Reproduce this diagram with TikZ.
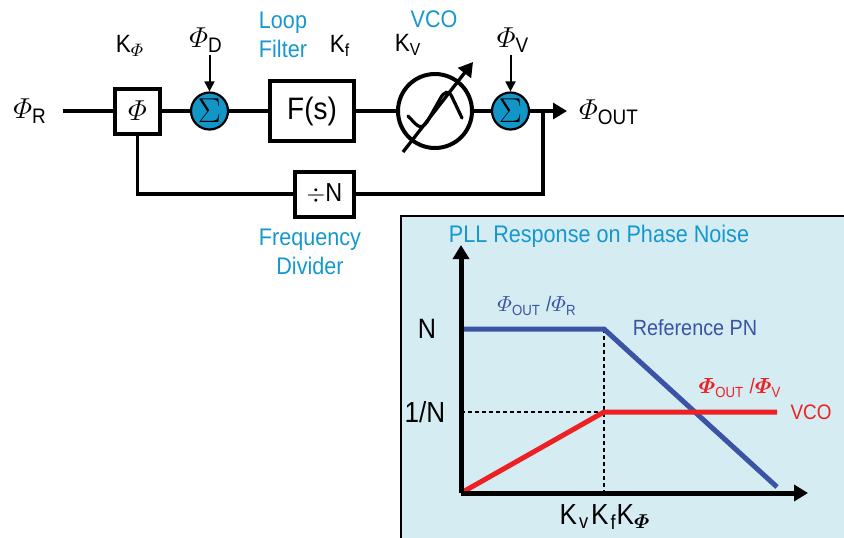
\documentclass[tikz,border=0pt]{standalone}
\usepackage{amsmath,bm}
\usepackage{fontspec}
\setmainfont{Liberation Sans}[FakeStretch=0.9]
\usetikzlibrary{arrows.meta,positioning}

\definecolor{labelblue}{RGB}{22,152,206}
\definecolor{sumblue}{RGB}{18,150,200}
\definecolor{panelbg}{RGB}{214,236,243}
\definecolor{pnblue}{RGB}{59,83,164}
\definecolor{pnred}{RGB}{237,32,36}

\newcommand{\fsz}[1]{\fontsize{#1}{14.5}\selectfont}

\tikzset{
    wire/.style={line width=1.65pt},
    block/.style={draw, line width=2pt, fill=white, inner sep=0pt},
    sumnode/.style={circle, draw, line width=1.1pt, fill=sumblue, minimum size=18.5pt, inner sep=0pt, font=\fsz{16}},
    lbl/.style={inner sep=1pt, font=\fsz{12.5}},
    philbl/.style={inner sep=1pt, font=\fsz{15}},
    bluetxt/.style={inner sep=1pt, text=labelblue, font=\fsz{12}},
    axis/.style={line width=2.5pt},
    guide/.style={line width=0.8pt, dash pattern=on 2pt off 1.5pt},
    pncurve/.style={line width=2.5pt},
}

\begin{document}
\begin{tikzpicture}[x=0.5pt, y=-0.5pt]
    \useasboundingbox (0,0) rectangle (844,537);

    % loop blocks
    \node[philbl] (phiR) at (30,111) {$\varPhi_{\text{R}}$};
    \node[block, minimum size=22.5pt, font=\fsz{15}] (pd) at (137.5,111) {$\varPhi$};
    \node[lbl] (kpd) at (130,46) {K$_{\varPhi}$};
    \node[sumnode] (sd) at (209.5,111) {$\Sigma$};
    \node[philbl] (phiD) at (206,40) {$\varPhi_{\text{D}}$};
    \node[block, minimum width=42pt, minimum height=30pt, font=\fsz{15.5}] (filt) at (312,111) {F(s)};
    \node[bluetxt, align=left] (loopf) at (283,35) {Loop\\Filter};
    \node[lbl] (kf) at (340,46) {K$_{\text{f}}$};
    \node[circle, draw, line width=2pt, minimum size=37pt, inner sep=0pt] (vco) at (435,111) {};
    \node[bluetxt] (vcotxt) at (434,19) {VCO};
    \node[lbl] (kv) at (408,45) {K$_{\text{V}}$};
    \node[sumnode] (sv) at (510.5,111) {$\Sigma$};
    \node[philbl] (phiV) at (513,40) {$\varPhi_{\text{V}}$};
    \node[philbl] (phiO) at (609,112) {$\varPhi_{\text{OUT}}$};
    \node[block, minimum width=29.5pt, minimum height=22.5pt, font=\fsz{13}] (div) at (324.5,194) {$\div$N};
    \node[bluetxt, align=center] (divtxt) at (310,252) {Frequency\\Divider};

    \coordinate (in) at (63,111);
    \coordinate (tap) at (543,111);
    \coordinate (tip) at (567,111);

    \draw[wire] (in) -- (pd);
    \draw[wire] (pd) -- (sd);
    \draw[wire] (sd) -- (filt);
    \draw[wire] (filt) -- (vco);
    \draw[wire] (vco) -- (sv);
    \draw[wire, -{Triangle[length=7pt,width=8pt]}] (sv) -- (tip);
    \draw[wire] (tap) |- (div);
    \draw[wire] (div) -| (pd);
    \draw[line width=1pt, -{Triangle[length=5pt,width=5pt]}] (sd.north |- phiD.south) -- (sd);
    \draw[line width=1pt, -{Triangle[length=5pt,width=5pt]}] (sv.north |- phiV.south) -- (sv);

    % vco symbol
    \draw[line width=1.6pt, line cap=round] (408,116) .. controls (416,124) and (420,132) .. (427,122)
        -- (440,99) .. controls (444,91) and (449,90) .. (452,97) -- (462,118);
    \draw[wire, -{Triangle[length=7pt,width=8pt]}] (vco.center) ++(-32,41) -- ++(70,-90);

    % response plot
    \draw[line width=1pt, fill=panelbg] (401,216) rectangle (860,560);
    \node[bluetxt] (ttl) at (599,236) {PLL Response on Phase Noise};

    \coordinate (o) at (461,493);
    \coordinate (ytip) at (461,245);
    \coordinate (xtip) at (808,493);
    \coordinate (nl) at (461,329);
    \coordinate (il) at (461,412);
    \coordinate (kneeN) at (604,329);
    \coordinate (kneeI) at (604,412);
    \coordinate (kx) at (604,493);
    \coordinate (bend) at (777,487);
    \coordinate (rend) at (777,412);

    \draw[guide] (il) -- (kneeI);
    \draw[guide] (kneeN) -- (kx);
    \draw[pncurve, pnblue] (nl) -- (kneeN) -- (bend);
    \draw[pncurve, pnred] (o) -- (kneeI) -- (rend);
    \draw[axis, -{Triangle[length=7pt,width=8pt]}] (o) -- (ytip);
    \draw[axis, -{Triangle[length=7pt,width=8pt]}] (o) -- (xtip);

    \node[inner sep=1pt, font=\fsz{14}] (nlbl) at (427,329) {N};
    \node[inner sep=1pt, font=\fsz{14.5}] (ilbl) at (425,412) {1/N};
    \node[inner sep=1pt, font=\fsz{14.5}] (klbl) at (605,517) {K\kern1pt$_{\text{v}}$\kern1pt K\kern1pt$_{\text{f}}$K$_{\bm{\varPhi}}$};
    \node[inner sep=1pt, text=pnblue, font=\fsz{10.5}] (hr) at (537,306) {$\varPhi_{\text{OUT}}$ /$\varPhi_{\text{R}}$};
    \node[inner sep=1pt, text=pnblue, font=\fsz{11}] (refpn) at (695,328) {Reference PN};
    \node[inner sep=1pt, text=pnred, font=\fsz{10.5}] (hv) at (740,388) {$\bm{\varPhi}_{\text{OUT}}$ /$\bm{\varPhi}_{\text{V}}$};
    \node[inner sep=1pt, text=pnred, font=\fsz{10.5}] (vcolbl) at (811,412) {VCO};
\end{tikzpicture}
\end{document}
